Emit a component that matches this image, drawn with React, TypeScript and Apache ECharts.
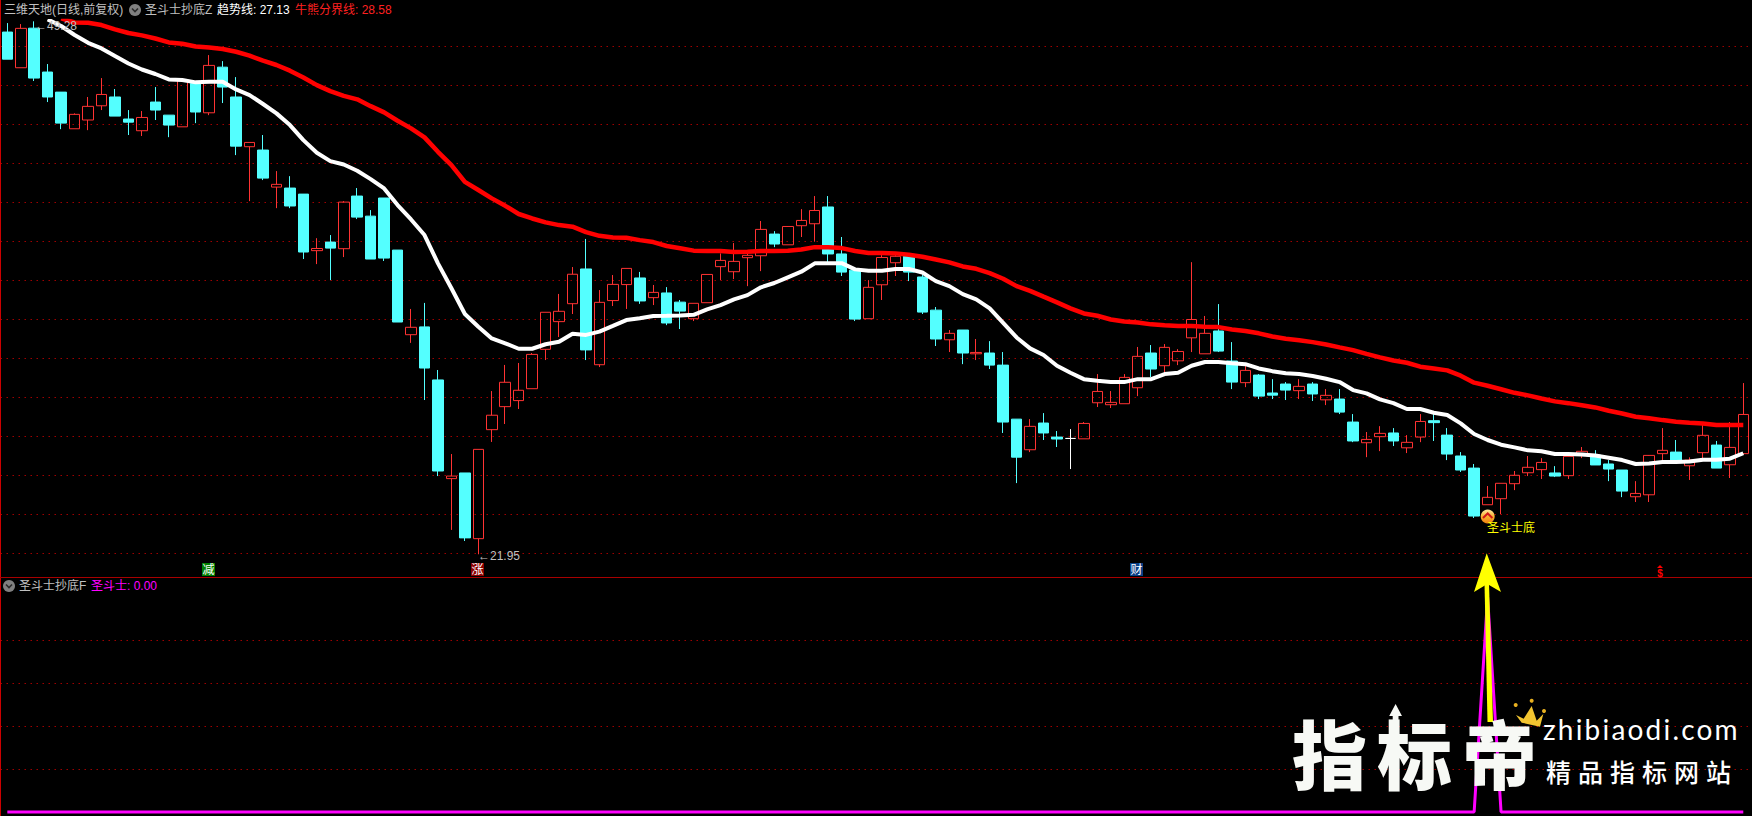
import React, { useEffect, useRef } from "react";
import * as echarts from "echarts";

// Daily OHLC (index 0..129)
const opens = [
48.73,46.90,48.93,46.68,45.65,43.77,44.22,44.95,45.40,44.27,43.67,45.14,44.47,43.87,46.10,44.59,46.93,45.40,42.85,42.68,
40.78,40.73,40.42,37.52,37.96,37.62,40.32,39.29,40.22,37.55,33.21,33.61,30.89,25.83,26.12,22.75,28.34,29.52,29.83,30.44,
32.46,33.88,34.80,36.58,31.67,34.96,35.78,36.12,35.11,35.35,34.88,34.03,34.85,36.70,36.44,37.16,37.26,38.37,37.82,38.80,
38.90,39.76,37.35,36.52,34.03,35.77,36.90,37.23,36.17,34.47,32.95,33.45,32.23,32.27,31.65,28.88,27.31,28.68,27.96,27.89,
27.87,29.72,29.62,29.67,30.49,32.27,31.62,31.87,33.05,32.23,33.40,31.86,30.75,31.14,30.22,30.68,30.34,30.68,29.87,29.91,
28.73,27.67,27.98,28.17,27.41,27.96,28.80,28.06,26.99,26.37,24.49,24.80,25.57,26.13,26.29,26.12,25.98,27.12,27.04,26.58,
26.27,24.90,25.00,27.11,27.19,26.49,27.16,27.55,26.54,27.11];
const closes = [
47.34,48.92,46.37,45.40,44.06,44.51,44.92,45.53,44.42,44.11,44.35,44.73,43.96,46.27,44.63,47.02,45.91,42.88,43.07,41.24,
40.92,39.81,37.45,37.63,37.65,40.01,39.24,37.09,37.14,33.86,33.59,31.50,26.22,25.96,22.79,27.33,29.08,30.77,30.36,32.20,
34.36,34.41,36.31,32.43,34.87,35.79,36.61,34.94,35.38,33.81,34.42,34.82,36.30,37.02,36.97,37.28,38.61,37.86,38.76,39.07,
39.58,37.35,36.42,34.01,35.64,37.17,37.23,36.42,34.37,32.99,33.28,32.27,32.30,31.65,28.73,26.93,28.51,28.17,27.86,27.89,
28.66,30.30,29.74,31.02,32.10,31.45,32.56,32.35,33.99,33.28,32.37,30.78,31.38,30.06,30.11,30.37,30.56,30.17,30.10,29.24,
27.76,27.84,28.15,27.76,27.69,28.76,28.70,27.09,26.27,23.91,24.87,25.59,26.00,26.41,26.66,25.96,26.97,27.23,26.53,26.32,
25.19,25.07,27.02,27.28,26.70,26.78,28.05,26.37,27.43,29.12];
const lows = [
47.34,46.90,46.22,45.14,43.75,43.77,43.70,44.73,44.42,43.45,43.40,44.22,43.34,43.87,44.06,44.47,45.09,42.42,40.06,41.14,
39.70,39.70,37.09,36.83,36.01,37.19,39.14,37.09,36.99,33.86,32.79,29.86,25.96,23.20,22.63,21.95,27.71,28.63,29.40,30.44,
31.91,33.09,34.27,31.91,31.55,34.68,34.53,34.79,34.73,33.70,33.50,33.91,34.85,36.01,36.06,35.70,36.47,37.70,37.82,38.22,
37.98,36.87,36.22,33.91,34.03,34.99,36.22,35.96,34.27,32.63,32.32,31.70,31.91,31.45,28.17,25.60,27.19,27.81,27.45,26.32,
27.87,29.50,29.45,29.67,30.06,31.04,31.19,31.65,32.32,32.23,32.32,30.42,30.52,29.91,29.91,29.86,29.91,29.81,29.60,29.14,
27.70,26.93,27.24,27.50,27.14,27.70,27.76,26.78,26.17,23.81,24.49,24.01,25.24,25.96,25.81,25.91,25.81,26.88,26.53,25.70,
24.88,24.63,24.63,26.78,26.61,25.76,26.87,26.37,25.86,27.11];
const highs = [
49.19,49.14,49.28,47.09,45.65,44.56,45.40,46.37,45.81,44.73,44.68,45.91,44.47,46.27,46.10,47.55,47.24,46.42,43.07,43.45,
41.60,41.34,40.42,38.16,38.32,40.06,40.73,39.60,40.22,37.55,34.53,34.84,31.40,27.09,26.12,27.33,30.32,31.66,31.76,32.27,
34.36,35.30,36.68,38.12,35.50,36.27,36.61,36.43,35.76,35.65,34.99,34.82,36.30,37.38,37.91,37.35,39.04,38.52,38.78,39.65,
40.32,40.32,38.22,36.52,36.01,37.29,37.29,37.28,36.27,34.63,33.45,33.45,32.99,32.88,32.32,28.88,28.88,29.19,28.27,28.37,
28.73,31.19,30.32,31.19,32.58,32.68,32.73,32.47,36.93,34.17,34.78,32.83,31.65,31.19,30.93,30.78,30.93,30.78,30.42,30.42,
29.14,28.22,28.52,28.42,28.06,29.14,29.17,28.42,27.19,26.58,25.45,25.59,26.22,26.99,26.88,26.47,26.99,27.45,27.29,26.78,
26.27,25.70,27.04,28.42,27.81,26.92,28.58,27.76,28.73,30.73];

// 趋势线 (white); the first three days lie above the pane
const trendLine: (number | null)[] = [
null,null,null,49.38,49.04,48.58,48.18,47.89,47.50,47.12,46.81,46.58,46.30,46.27,46.15,46.18,46.18,45.79,45.50,45.04,
44.56,43.96,43.19,42.54,42.11,41.94,41.62,41.19,40.71,39.86,39.12,38.32,36.87,35.59,34.27,33.62,33.02,32.77,32.49,32.49,
32.72,32.85,33.26,33.20,33.37,33.66,33.96,34.05,34.17,34.18,34.20,34.23,34.51,34.73,35.02,35.24,35.64,35.86,36.15,36.44,
36.87,36.88,36.88,36.56,36.49,36.49,36.58,36.58,36.40,35.96,35.70,35.29,35.02,34.56,33.82,33.07,32.51,32.17,31.62,31.26,
30.93,30.85,30.78,30.78,30.93,30.93,31.19,31.26,31.62,31.81,31.81,31.74,31.70,31.48,31.34,31.23,31.19,31.09,30.95,30.78,
30.37,30.20,29.89,29.70,29.40,29.40,29.21,29.09,28.66,28.12,27.81,27.57,27.43,27.28,27.23,27.09,27.09,27.07,27.02,26.90,
26.78,26.58,26.61,26.68,26.68,26.71,26.80,26.80,26.85,27.13];

// 牛熊分界线 (red)
const bullBearLine: (number | null)[] = [
null,null,null,null,49.43,49.22,49.21,49.09,48.87,48.68,48.56,48.40,48.20,48.13,47.99,47.94,47.86,47.72,47.52,47.26,
47.04,46.75,46.40,46.01,45.70,45.46,45.28,44.93,44.61,44.18,43.79,43.33,42.59,41.91,41.05,40.63,40.20,39.82,39.40,39.17,
38.97,38.83,38.75,38.47,38.28,38.20,38.18,38.06,37.96,37.76,37.64,37.52,37.50,37.50,37.45,37.46,37.50,37.50,37.52,37.58,
37.70,37.69,37.65,37.50,37.40,37.40,37.38,37.31,37.21,37.07,36.92,36.71,36.59,36.37,36.08,35.70,35.46,35.16,34.87,34.56,
34.30,34.18,33.99,33.89,33.84,33.74,33.69,33.65,33.65,33.62,33.60,33.48,33.40,33.28,33.12,33.00,32.93,32.83,32.71,32.56,
32.42,32.23,32.05,31.89,31.77,31.57,31.48,31.38,31.11,30.75,30.59,30.41,30.23,30.10,29.94,29.79,29.70,29.59,29.48,29.31,
29.17,29.00,28.92,28.83,28.75,28.70,28.66,28.58,28.58,28.58];

// 圣斗士 signal in the lower pane
const signalValues = [
0,0,0,0,0,0,0,0,0,0,0,0,0,0,0,0,0,0,0,0,
0,0,0,0,0,0,0,0,0,0,0,0,0,0,0,0,0,0,0,0,
0,0,0,0,0,0,0,0,0,0,0,0,0,0,0,0,0,0,0,0,
0,0,0,0,0,0,0,0,0,0,0,0,0,0,0,0,0,0,0,0,
0,0,0,0,0,0,0,0,0,0,0,0,0,0,0,0,0,0,0,0,
0,0,0,0,0,0,0,0,0,0,1,0,0,0,0,0,0,0,0,0,
0,0,0,0,0,0,0,0,0,0];

const priceGridValues = [22,24,26,28,30,32,34,36,38,40,42,44,46,48];
const signalGridValues = [0.2,0.4,0.6,0.8];
const dayLabels = opens.map((_, i) => String(i + 1));

const UP = "#FF3333";
const DOWN = "#54FFFF";
const GRID = "#C80000";
const CJK = '"Noto Sans CJK SC"';
const UI = `12px "Liberation Sans", ${CJK}`;

const T = (text: string, x: number, y: number, fill: string, extra: any = {}) => ({
  type: "text", x, y, z: 100, silent: true,
  style: { text, fill, font: UI, textAlign: "left", textVerticalAlign: "middle", ...extra },
});
const R = (x: number, y: number, width: number, height: number, fill: string) => ({
  type: "rect", z: 90, silent: true, shape: { x, y, width, height }, style: { fill },
});
const P = (points: number[][], fill: string, extra: any = {}, z = 95) => ({
  type: "polygon", z, silent: true, shape: { points }, style: { fill, ...extra },
});
const L = (points: number[][], stroke: string, lineWidth = 1.5, z = 101) => ({
  type: "polyline", z, silent: true, shape: { points }, style: { stroke, lineWidth, fill: "none" },
});
const icon = (cx: number, cy: number) => [
  { type: "circle", z: 100, silent: true, shape: { cx, cy, r: 6 }, style: { fill: "#808080" } },
  L([[cx - 3, cy - 1.5], [cx, cy + 1.5], [cx + 3, cy - 1.5]], "#2a2a2a", 1.6),
];

const crownAt = (X: number, Y: number) => [1280 + X / 3, 690 + Y / 3];

export default function App() {
  const ref = useRef<HTMLDivElement>(null);
  useEffect(() => {
    document.body.style.margin = "0";
    document.body.style.background = "#000";
    const chart = echarts.init(ref.current!, null, { renderer: "svg" });
    const candles = opens.map((o, i) => {
      const item: any = { value: [o, closes[i], lows[i], highs[i]] };
      if (o === closes[i]) item.itemStyle = { color: "#fff", color0: "#fff", borderColor: "#fff", borderColor0: "#fff", borderColorDoji: "#fff" };
      return item;
    });
    const splitLine = { show: true, lineStyle: { color: GRID, type: [1.2, 4.8], width: 1 } };
    const hiddenAxis = { axisLine: { show: false }, axisLabel: { show: false }, axisTick: { show: false } };
    chart.setOption({
      animation: false,
      backgroundColor: "#000",
      grid: [
        { left: 0.6, width: 1749.41, top: 21, height: 556.3 },
        { left: 0.6, width: 1749.41, top: 578, height: 238 },
      ],
      xAxis: [
        { type: "category", gridIndex: 0, data: dayLabels, boundaryGap: true, ...hiddenAxis, splitLine: { show: false } },
        { type: "category", gridIndex: 1, data: dayLabels, boundaryGap: true, ...hiddenAxis, splitLine: { show: false } },
      ],
      yAxis: [
        { type: "value", gridIndex: 0, min: 20.769, max: 49.297, ...hiddenAxis,
          axisTick: { show: false, customValues: priceGridValues }, splitLine },
        { type: "value", gridIndex: 1, min: -0.0186, max: 1.0884, ...hiddenAxis,
          axisTick: { show: false, customValues: signalGridValues }, splitLine },
      ],
      series: [
        { type: "candlestick", name: "K", xAxisIndex: 0, yAxisIndex: 0, data: candles, barWidth: 11, z: 2,
          itemStyle: { color: "rgba(0,0,0,0)", color0: DOWN, borderColor: UP, borderColor0: DOWN, borderWidth: 1 } },
        { type: "line", name: "牛熊分界线", xAxisIndex: 0, yAxisIndex: 0, data: bullBearLine, showSymbol: false, z: 3,
          lineStyle: { color: "#FF0000", width: 4.5 }, itemStyle: { color: "#FF0000" } },
        { type: "line", name: "趋势线", xAxisIndex: 0, yAxisIndex: 0, data: trendLine, showSymbol: false, z: 4,
          lineStyle: { color: "#FFFFFF", width: 4 }, itemStyle: { color: "#FFFFFF" } },
        { type: "line", name: "圣斗士", xAxisIndex: 1, yAxisIndex: 1, data: signalValues, showSymbol: false, z: 3,
          lineStyle: { color: "#FF00FF", width: 3 }, itemStyle: { color: "#FF00FF" } },
      ],
      graphic: { elements: [
        // pane borders
        R(0, 0, 1, 816, "#CC0000"),
        R(0, 577, 1752, 1, "#A80000"),
        // headers
        T("三维天地(日线,前复权)", 4, 10, "#C0C0C0"),
        ...icon(135, 10),
        T("圣斗士抄底Z", 145, 10, "#C0C0C0"),
        T("趋势线: 27.13", 217, 10, "#FFFFFF"),
        T("牛熊分界线: 28.58", 295, 10, "#FF2020"),
        ...icon(9, 586),
        T("圣斗士抄底F", 19, 586, "#C0C0C0"),
        T("圣斗士: 0.00", 91, 586, "#FF00FF"),
        // high / low notes
        T("←49.28", 35, 26, "#C0C0C0"),
        T("←21.95", 478, 555.5, "#C0C0C0"),
        // bottom tags of the price pane
        R(202, 563, 13, 13, "#008000"),
        T("减", 208.5, 569.5, "#FFFFFF", { textAlign: "center" }),
        R(471, 563, 13, 13, "#8B0000"),
        T("涨", 477.5, 569.5, "#FFFFFF", { textAlign: "center" }),
        R(1130, 563, 13, 13, "#0A3F86"),
        T("财", 1136.5, 569.5, "#FFFFFF", { textAlign: "center" }),
        P([[1660, 565], [1657, 568], [1663, 568]], "#FF0000"),
        T("$", 1660, 573, "#FF0000", { textAlign: "center", font: 'bold 10px "Liberation Sans"' }),
        // signal marker
        { type: "circle", z: 100, silent: true, shape: { cx: 1487.7, cy: 516.5, r: 7 },
          style: { fill: new echarts.graphic.LinearGradient(0, 0, 0, 1, [
            { offset: 0, color: "#FFE9A0" }, { offset: 0.5, color: "#F8B030" }, { offset: 1, color: "#F08010" } ]) } },
        L([[1483, 518], [1487.7, 513.5], [1492.4, 518]], "#D01818", 2),
        T("圣斗士底", 1487, 528, "#FFFF00"),
        // yellow arrow
        P([[1484.5, 583], [1489, 583], [1493, 722], [1487.5, 722]], "#FFFF00"),
        P([[1486.7, 553.3], [1501, 592], [1487.3, 584], [1474, 592]], "#FFFF00"),
        // watermark
        P([[1395.6, 704], [1402, 716], [1398.5, 716], [1398.5, 730], [1392.7, 730], [1392.7, 716], [1389.2, 716]], "#F7F9F5", {}, 110),
        { type: "text", x: 1292, y: 751, z: 110, silent: true,
          style: { text: "指标帝", fill: "#F7F9F5", font: `900 75px ${CJK}`, textAlign: "left", textVerticalAlign: "middle",
            shadowColor: "rgba(255,255,255,0.45)", shadowBlur: 5 } },
        P([crownAt(708, 75), crownAt(731, 86), crownAt(755, 48), crownAt(770, 92), crownAt(790, 72), crownAt(780, 110), crownAt(725, 98)], "#F2C430", {}, 111),
        { type: "circle", z: 111, silent: true, shape: { cx: crownAt(707, 45)[0], cy: crownAt(707, 45)[1], r: 2 }, style: { fill: "#E8B020" } },
        { type: "circle", z: 111, silent: true, shape: { cx: crownAt(755, 32)[0], cy: crownAt(755, 32)[1], r: 2 }, style: { fill: "#E8B020" } },
        { type: "circle", z: 111, silent: true, shape: { cx: crownAt(792, 63)[0], cy: crownAt(792, 63)[1], r: 2 }, style: { fill: "#E8B020" } },
        { type: "text", x: 1543, y: 729, z: 110, silent: true,
          style: { text: "zhibiaodi.com", fill: "#FFFFFF", font: '400 28px "Lato"', textAlign: "left", textVerticalAlign: "middle" } },
        { type: "text", x: 1546, y: 771, z: 110, silent: true,
          style: { text: "精品指标网站", fill: "#FFFFFF", font: `500 25px ${CJK}`, textAlign: "left", textVerticalAlign: "middle" } },
      ] },
    });
    // spread the watermark glyphs, which zrender's text style cannot do
    ref.current!.querySelectorAll("text").forEach((n) => {
      const s = n.textContent;
      if (s === "指标帝") n.style.letterSpacing = "10px";
      if (s === "精品指标网站") n.style.letterSpacing = "7px";
      if (s === "zhibiaodi.com") n.style.letterSpacing = "2.2px";
    });
    return () => chart.dispose();
  }, []);
  return <div ref={ref} style={{ width: 1752, height: 816, position: "fixed", left: 0, top: 0 }} />;
}
